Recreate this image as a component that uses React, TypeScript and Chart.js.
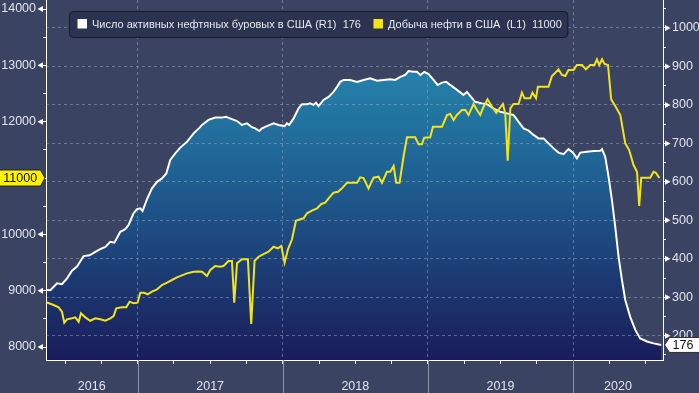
import React, { useEffect, useRef } from "react";
import { Chart, registerables } from "chart.js";

Chart.register(...registerables);

// ---------- DATA ----------
const RIG_LABEL = "Число активных нефтяных буровых в США";
const PROD_LABEL = "Добыча нефти в США";

// decimal-year dates and weekly US oil rig count (right axis)
const rigDates = [
  2016.371, 2016.399, 2016.445, 2016.479, 2016.514, 2016.548, 2016.583, 2016.628, 2016.669, 2016.709,
  2016.743, 2016.778, 2016.812, 2016.84, 2016.881, 2016.915, 2016.938, 2016.972, 2016.996, 2017.019,
  2017.034, 2017.065, 2017.099, 2017.134, 2017.168, 2017.198, 2017.225, 2017.26, 2017.294, 2017.34,
  2017.386, 2017.427, 2017.444, 2017.489, 2017.535, 2017.581, 2017.609, 2017.65, 2017.685, 2017.719,
  2017.754, 2017.788, 2017.811, 2017.838, 2017.857, 2017.891, 2017.937, 2017.971, 2018.013, 2018.029,
  2018.045, 2018.075, 2018.109, 2018.133, 2018.167, 2018.19, 2018.212, 2018.229, 2018.247, 2018.281,
  2018.316, 2018.35, 2018.374, 2018.396, 2018.419, 2018.465, 2018.512, 2018.557, 2018.603, 2018.649,
  2018.695, 2018.741, 2018.775, 2018.81, 2018.844, 2018.867, 2018.901, 2018.925, 2018.948, 2018.975,
  2019.005, 2019.039, 2019.067, 2019.097, 2019.127, 2019.154, 2019.2, 2019.246, 2019.269, 2019.297,
  2019.326, 2019.373, 2019.407, 2019.452, 2019.499, 2019.545, 2019.59, 2019.625, 2019.659, 2019.694,
  2019.728, 2019.762, 2019.797, 2019.831, 2019.866, 2019.9, 2019.935, 2019.969, 2020.0, 2020.027,
  2020.05, 2020.096, 2020.141, 2020.188, 2020.2, 2020.222, 2020.245, 2020.268, 2020.291, 2020.314,
  2020.337, 2020.36, 2020.394, 2020.429, 2020.463, 2020.509, 2020.555, 2020.608,
];
const rigCounts = [
  319, 318, 336, 334, 349, 369, 380, 407, 409, 418,
  425, 431, 444, 442, 470, 477, 488, 518, 529, 531,
  524, 555, 583, 600, 609, 622, 657, 674, 689, 704,
  726, 741, 748, 761, 767, 767, 769, 763, 758, 748,
  752, 742, 739, 732, 739, 745, 752, 748, 745, 752,
  748, 765, 791, 802, 802, 804, 800, 806, 797, 813,
  821, 834, 847, 860, 865, 865, 860, 865, 869, 863,
  865, 867, 865, 873, 878, 888, 886, 886, 878, 886,
  880, 865, 852, 858, 860, 852, 839, 826, 834, 821,
  808, 804, 802, 791, 782, 778, 774, 756, 739, 733,
  722, 713, 713, 700, 687, 676, 672, 685, 676, 661,
  676, 678, 680, 681, 685, 665, 613, 553, 483, 405,
  345, 293, 249, 215, 193, 185, 180, 176,
];

// decimal-year dates and weekly US crude production, thousand b/d (left axis)
const prodDates = [
  2016.371, 2016.421, 2016.456, 2016.479, 2016.495, 2016.514, 2016.548, 2016.571, 2016.594, 2016.61,
  2016.64, 2016.674, 2016.709, 2016.743, 2016.778, 2016.812, 2016.835, 2016.853, 2016.893, 2016.922,
  2016.945, 2016.972, 2017.0, 2017.019, 2017.046, 2017.069, 2017.099, 2017.134, 2017.168, 2017.203,
  2017.237, 2017.271, 2017.306, 2017.34, 2017.386, 2017.415, 2017.444, 2017.478, 2017.501, 2017.535,
  2017.57, 2017.592, 2017.627, 2017.65, 2017.666, 2017.685, 2017.719, 2017.76, 2017.783, 2017.806,
  2017.834, 2017.868, 2017.902, 2017.937, 2017.967, 2017.99, 2018.013, 2018.036, 2018.064, 2018.091,
  2018.121, 2018.144, 2018.167, 2018.201, 2018.236, 2018.266, 2018.293, 2018.316, 2018.35, 2018.381,
  2018.408, 2018.443, 2018.512, 2018.534, 2018.557, 2018.591, 2018.626, 2018.66, 2018.684, 2018.718,
  2018.741, 2018.764, 2018.782, 2018.805, 2018.833, 2018.856, 2018.913, 2018.936, 2018.959, 2018.975,
  2019.016, 2019.035, 2019.097, 2019.132, 2019.154, 2019.177, 2019.2, 2019.235, 2019.258, 2019.28,
  2019.315, 2019.338, 2019.361, 2019.384, 2019.411, 2019.442, 2019.471, 2019.494, 2019.517, 2019.533,
  2019.55, 2019.568, 2019.59, 2019.625, 2019.648, 2019.666, 2019.705, 2019.721, 2019.745, 2019.758,
  2019.831, 2019.855, 2019.878, 2019.9, 2019.924, 2019.947, 2019.969, 2020.004, 2020.027, 2020.062,
  2020.089, 2020.119, 2020.148, 2020.165, 2020.181, 2020.2, 2020.217, 2020.241, 2020.263, 2020.291,
  2020.326, 2020.36, 2020.387, 2020.417, 2020.441, 2020.456, 2020.47, 2020.532, 2020.555, 2020.571,
  2020.595,
];
const prodValues = [
  8794, 8746, 8705, 8627, 8432, 8492, 8510, 8527, 8450, 8598,
  8527, 8467, 8510, 8492, 8467, 8510, 8551, 8687, 8705, 8705,
  8805, 8776, 8787, 8964, 8964, 8935, 8982, 9025, 9101, 9142,
  9190, 9237, 9273, 9308, 9337, 9340, 9337, 9261, 9367, 9438,
  9426, 9438, 9527, 9527, 8787, 9486, 9557, 9557, 8409, 9532,
  9603, 9651, 9692, 9781, 9752, 9793, 9497, 9734, 9912, 10242,
  10267, 10285, 10374, 10420, 10462, 10539, 10562, 10640, 10740, 10757,
  10817, 10917, 10917, 11012, 11000, 10817, 11006, 11024, 10917, 11112,
  11112, 11213, 10917, 10917, 11391, 11723, 11723, 11598, 11598, 11716,
  11723, 11911, 11911, 12119, 12136, 12030, 12119, 12207, 12207, 12119,
  12314, 12207, 12119, 12266, 12397, 12266, 12159, 12237, 12314, 12148,
  11307, 12237, 12314, 12314, 12515, 12415, 12415, 12515, 12415, 12621,
  12621, 12811, 12870, 12929, 12829, 12811, 12917, 12917, 13006, 13006,
  12929, 13006, 13006, 13107, 13006, 13107, 13024, 13006, 12397, 12278,
  12119, 11616, 11497, 11231, 11112, 10503, 11006, 11006, 11112, 11094,
  11000,
];

// axis ranges and ticks
const X_MIN = 2016.369;
const X_MAX = 2020.62;
const L_MIN = 7770;
const L_MAX = 14160;
const R_MIN = 136.8;
const R_MAX = 1072.8;
const leftMajorTicks = [8000, 9000, 10000, 11000, 12000, 13000, 14000];
const leftMinorStep = 500;
const rightMajorTicks = [200, 300, 400, 500, 600, 700, 800, 900, 1000];
const rightMinorStep = 50;
const quarterStep = 0.25;

// ---------- STYLE ----------
const BG = "#3a4361";
const TEXT = "#e2e5ec";
const GRID = "rgba(150,162,192,0.55)";
const YELLOW = "#f3e41a";
const FONT = "'Liberation Sans', Arial, sans-serif";
const FONT_SIZE = 12.5;

const isMultiple = (v: number, step: number) => Math.abs(v / step - Math.round(v / step)) < 1e-6;

export default function App() {
  const canvasRef = useRef<HTMLCanvasElement | null>(null);

  useEffect(() => {
    const canvas = canvasRef.current;
    if (!canvas) return;

    // x-axis: quarter tick marks + year label positions at centres of visible years
    const labelMap = new Map<number, string>();
    for (let y = Math.floor(X_MIN); y <= Math.floor(X_MAX); y++) {
      const c = (Math.max(y, X_MIN) + Math.min(y + 1, X_MAX)) / 2;
      labelMap.set(Math.round(c * 1000) / 1000, String(y));
    }
    const xTickSet = new Set<number>();
    for (let v = Math.ceil(X_MIN / quarterStep) * quarterStep; v <= X_MAX; v += quarterStep) {
      xTickSet.add(Math.round(v * 1000) / 1000);
    }
    labelMap.forEach((_, k) => xTickSet.add(k));
    const xTicks = Array.from(xTickSet).sort((a, b) => a - b);

    const leftTicks: number[] = [];
    for (let v = leftMajorTicks[0]; v <= leftMajorTicks[leftMajorTicks.length - 1]; v += leftMinorStep) leftTicks.push(v);
    const rightTicks: number[] = [];
    for (let v = rightMajorTicks[0] - rightMinorStep * 2; v <= R_MAX; v += rightMinorStep) if (v >= R_MIN) rightTicks.push(v);

    const rigData = rigDates.map((d, i) => ({ x: d, y: rigCounts[i] }));
    const prodData = prodDates.map((d, i) => ({ x: d, y: prodValues[i] }));
    const lastRig = rigCounts[rigCounts.length - 1];
    const lastProd = prodValues[prodValues.length - 1];

    const decor = {
      id: "decor",
      afterDraw(chart: any) {
        const { ctx, chartArea, scales } = chart;
        const xS = scales.x;
        const yL = scales.yL;
        const yR = scales.yR;
        ctx.save();

        // year separators below the axis
        ctx.strokeStyle = "#8a93a9";
        ctx.lineWidth = 1;
        for (let y = Math.ceil(X_MIN); y <= X_MAX; y++) {
          const px = Math.round(xS.getPixelForValue(y)) + 0.5;
          ctx.beginPath();
          ctx.moveTo(px, chartArea.bottom);
          ctx.lineTo(px, chart.height);
          ctx.stroke();
        }

        // major tick pointers
        ctx.fillStyle = "#ffffff";
        leftMajorTicks.forEach((v) => {
          const py = yL.getPixelForValue(v);
          ctx.beginPath();
          ctx.moveTo(chartArea.left - 8.5, py);
          ctx.lineTo(chartArea.left - 3, py - 3);
          ctx.lineTo(chartArea.left - 3, py + 3);
          ctx.closePath();
          ctx.fill();
        });
        rightMajorTicks.forEach((v) => {
          const py = yR.getPixelForValue(v);
          ctx.beginPath();
          ctx.moveTo(chartArea.right + 7.5, py);
          ctx.lineTo(chartArea.right + 2, py - 3);
          ctx.lineTo(chartArea.right + 2, py + 3);
          ctx.closePath();
          ctx.fill();
        });

        ctx.font = `${FONT_SIZE}px ${FONT}`;
        ctx.textBaseline = "middle";

        // yellow last-value tag on left axis
        const ty = yL.getPixelForValue(lastProd);
        ctx.beginPath();
        ctx.moveTo(-1, ty - 8);
        ctx.lineTo(chartArea.left - 5.5, ty - 8);
        ctx.lineTo(chartArea.left - 1, ty);
        ctx.lineTo(chartArea.left - 5.5, ty + 8);
        ctx.lineTo(-1, ty + 8);
        ctx.closePath();
        ctx.fillStyle = "#fff200";
        ctx.fill();
        ctx.strokeStyle = "#2a2a2a";
        ctx.lineWidth = 1;
        ctx.stroke();
        ctx.fillStyle = "#111111";
        ctx.textAlign = "center";
        ctx.fillText(String(lastProd), (chartArea.left - 5.5) / 2, ty + 0.5);

        // white last-value tag on right axis
        const ry = yR.getPixelForValue(lastRig);
        ctx.beginPath();
        ctx.moveTo(chartArea.right + 1.5, ry);
        ctx.lineTo(chartArea.right + 6.5, ry - 7.5);
        ctx.lineTo(chart.width + 1, ry - 7.5);
        ctx.lineTo(chart.width + 1, ry + 7.5);
        ctx.lineTo(chartArea.right + 6.5, ry + 7.5);
        ctx.closePath();
        ctx.fillStyle = "#ffffff";
        ctx.fill();
        ctx.strokeStyle = "#2a2a2a";
        ctx.stroke();
        ctx.fillStyle = "#111111";
        ctx.textAlign = "left";
        ctx.fillText(String(lastRig), chartArea.right + 9.5, ry + 0.5);

        // legend box
        ctx.font = `11px ${FONT}`;
        const items = [
          { color: "#ffffff", text: `${RIG_LABEL} (R1)  ${lastRig}` },
          { color: YELLOW, text: `${PROD_LABEL}  (L1)  ${lastProd}` },
        ];
        const bx = chartArea.left + 23.5;
        const by = 11.5;
        const bh = 26;
        let cx = bx + 8;
        const pos: { sx: number; tx: number }[] = [];
        items.forEach((it) => {
          pos.push({ sx: cx, tx: cx + 14.5 });
          cx = cx + 14.5 + ctx.measureText(it.text).width + 12.5;
        });
        const bw = cx - 12.5 + 6 - bx;
        const r = 4;
        ctx.beginPath();
        ctx.moveTo(bx + r, by);
        ctx.lineTo(bx + bw - r, by);
        ctx.quadraticCurveTo(bx + bw, by, bx + bw, by + r);
        ctx.lineTo(bx + bw, by + bh - r);
        ctx.quadraticCurveTo(bx + bw, by + bh, bx + bw - r, by + bh);
        ctx.lineTo(bx + r, by + bh);
        ctx.quadraticCurveTo(bx, by + bh, bx, by + bh - r);
        ctx.lineTo(bx, by + r);
        ctx.quadraticCurveTo(bx, by, bx + r, by);
        ctx.closePath();
        ctx.fillStyle = "#2b3350";
        ctx.fill();
        ctx.strokeStyle = "#151a29";
        ctx.stroke();
        items.forEach((it, i) => {
          ctx.fillStyle = it.color;
          ctx.fillRect(pos[i].sx, by + 7.5, 9.5, 9.5);
          ctx.fillStyle = "#e8eaf0";
          ctx.textAlign = "left";
          ctx.fillText(it.text, pos[i].tx, by + bh / 2 + 0.5);
        });

        ctx.restore();
      },
    };

    const chart = new Chart(canvas, {
      type: "line",
      data: {
        datasets: [
          {
            label: PROD_LABEL,
            data: prodData,
            yAxisID: "yL",
            borderColor: YELLOW,
            borderWidth: 2,
            pointRadius: 0,
            fill: false,
            tension: 0,
            order: 0,
          },
          {
            label: RIG_LABEL,
            data: rigData,
            yAxisID: "yR",
            borderColor: "#ffffff",
            borderWidth: 2,
            pointRadius: 0,
            tension: 0,
            fill: "start",
            order: 1,
            backgroundColor: (c: any) => {
              const ca = c.chart.chartArea;
              if (!ca) return "rgba(0,0,0,0)";
              const g = c.chart.ctx.createLinearGradient(0, ca.top, 0, ca.bottom);
              g.addColorStop(0, "#2a98b9");
              g.addColorStop(0.45, "#1f6596");
              g.addColorStop(1, "#1a1c5a");
              return g;
            },
          },
        ],
      },
      options: {
        animation: false,
        responsive: true,
        maintainAspectRatio: false,
        devicePixelRatio: 1,
        layout: { padding: 0 },
        plugins: {
          legend: { display: false },
          tooltip: { enabled: false },
          filler: { drawTime: "beforeDraw" },
        },
        scales: {
          x: {
            type: "linear",
            min: X_MIN,
            max: X_MAX,
            afterBuildTicks: (s: any) => {
              s.ticks = xTicks.map((v) => ({ value: v }));
            },
            afterFit: (s: any) => {
              s.height = 33;
              s.paddingLeft = 0;
              s.paddingRight = 0;
            },
            ticks: {
              autoSkip: false,
              maxRotation: 0,
              padding: 15,
              color: TEXT,
              font: { family: FONT, size: FONT_SIZE },
              callback: (v: any) => labelMap.get(Math.round(Number(v) * 1000) / 1000) || "",
            },
            grid: {
              drawOnChartArea: true,
              drawTicks: true,
              tickLength: 4,
              color: (c: any) => (c.tick && isMultiple(c.tick.value, 1) ? GRID : "rgba(0,0,0,0)"),
              tickColor: (c: any) => (c.tick && isMultiple(c.tick.value, quarterStep) ? TEXT : "rgba(0,0,0,0)"),
            },
            border: { display: true, color: "#ffffff", width: 1, dash: [3, 3] },
          },
          yL: {
            type: "linear",
            position: "left",
            min: L_MIN,
            max: L_MAX,
            afterBuildTicks: (s: any) => {
              s.ticks = leftTicks.map((v) => ({ value: v }));
            },
            afterFit: (s: any) => {
              s.width = 46;
              s.paddingTop = 0;
              s.paddingBottom = 0;
            },
            ticks: {
              autoSkip: false,
              padding: 7,
              color: TEXT,
              font: { family: FONT, size: FONT_SIZE },
              callback: (v: any) => (leftMajorTicks.includes(Number(v)) ? String(v) : ""),
            },
            grid: { drawOnChartArea: false, drawTicks: true, tickLength: 3, tickColor: "#ffffff" },
            border: { display: true, color: "#ffffff", width: 1 },
          },
          yR: {
            type: "linear",
            position: "right",
            min: R_MIN,
            max: R_MAX,
            afterBuildTicks: (s: any) => {
              s.ticks = rightTicks.map((v) => ({ value: v }));
            },
            afterFit: (s: any) => {
              s.width = 36;
              s.paddingTop = 0;
              s.paddingBottom = 0;
            },
            ticks: {
              autoSkip: false,
              padding: 6,
              color: TEXT,
              font: { family: FONT, size: FONT_SIZE },
              callback: (v: any) => (rightMajorTicks.includes(Number(v)) ? String(v) : ""),
            },
            grid: {
              drawOnChartArea: true,
              drawTicks: true,
              tickLength: 3,
              color: (c: any) => (c.tick && rightMajorTicks.includes(c.tick.value) ? GRID : "rgba(0,0,0,0)"),
              tickColor: "#ffffff",
            },
            border: { display: true, color: "#ffffff", width: 1, dash: [3, 3] },
          },
        },
      } as any,
      plugins: [decor],
    });

    return () => chart.destroy();
  }, []);

  return (
    <div style={{ position: "absolute", left: 0, top: 0, width: 699, height: 393, background: BG }}>
      <canvas ref={canvasRef} />
    </div>
  );
}
